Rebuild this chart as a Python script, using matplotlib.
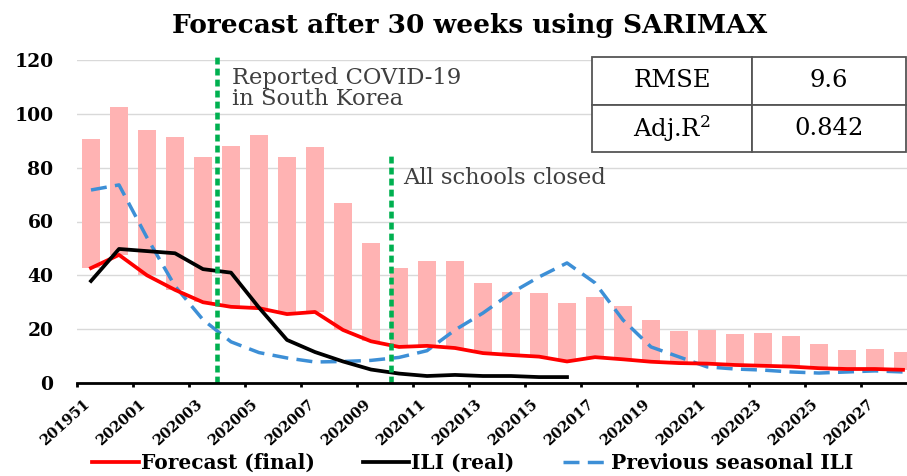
import numpy as np
import matplotlib
matplotlib.use("Agg")
import matplotlib.pyplot as plt
import matplotlib.transforms as mtransforms

# weekly values
weeks = ['201951', '201952', '202001', '202002', '202003', '202004', '202005',
         '202006', '202007', '202008', '202009', '202010', '202011', '202012',
         '202013', '202014', '202015', '202016', '202017', '202018', '202019',
         '202020', '202021', '202022', '202023', '202024', '202025', '202026',
         '202027', '202028']
upper = [90.7, 102.6, 94.0, 91.4, 84.0, 88.0, 92.0, 84.0, 87.8, 67.0,
         52.0, 42.7, 45.2, 45.2, 37.2, 33.8, 33.4, 29.7, 32.0, 28.5,
         23.4, 19.5, 19.7, 18.2, 18.6, 17.5, 14.5, 12.3, 12.6, 11.5]
forecast = [42.7, 47.6, 40.0, 34.6, 30.0, 28.3, 27.8, 25.6, 26.4, 19.7,
            15.5, 13.4, 13.8, 13.0, 11.1, 10.4, 9.8, 8.0, 9.6, 8.8,
            7.9, 7.4, 7.2, 6.7, 6.4, 6.1, 5.5, 5.2, 5.2, 4.9]
ili_real = [37.9, 49.8, 49.0, 48.2, 42.3, 41.0, 28.0, 16.0, 11.5, 8.0,
            5.0, 3.5, 2.6, 3.0, 2.6, 2.6, 2.2, 2.2]
prev_season = [71.7, 73.6, 54.0, 36.0, 23.5, 15.3, 11.3, 9.3, 7.8, 8.0,
               8.4, 9.5, 12.0, 19.7, 26.0, 33.4, 39.4, 44.6, 37.2, 23.4,
               13.4, 9.7, 6.0, 5.2, 4.8, 4.1, 3.7, 4.1, 4.5, 4.1]

# events (position in week index)
covid_pos = 4.5
school_pos = 10.7

metrics = [['RMSE', '9.6'], ['Adj.R$^2$', '0.842']]

plt.rcParams['font.family'] = ['DejaVu Serif']
plt.rcParams['mathtext.fontset'] = 'dejavuserif'

fig = plt.figure(figsize=(9.07, 4.76), dpi=100)
ax = fig.add_axes([77 / 907, 93 / 476, 840 / 907, 323 / 476])

x = np.arange(len(weeks))
upper = np.array(upper)
forecast_arr = np.array(forecast)
ax.bar(x, upper - forecast_arr, bottom=forecast_arr, width=0.64,
       color='#FFB3B3', zorder=2)

ax.plot(x, forecast, color='#FF0000', lw=2.7, zorder=4)
ax.plot(x[:len(ili_real)], ili_real, color='black', lw=2.7, zorder=5)
ax.plot(x, prev_season, color='#3D8FD6', lw=2.5, ls=(0, (4.6, 2.4)), zorder=3)

ax.plot([covid_pos, covid_pos], [0, 121], color='#00B050', lw=3.3,
        ls=(0, (1.5, 0.9)), zorder=6, clip_on=False)
ax.plot([school_pos, school_pos], [0, 86], color='#00B050', lw=3.3,
        ls=(0, (1.5, 0.9)), zorder=6, clip_on=False)

ax.text(covid_pos + 0.55, 109.3, 'Reported COVID-19\nin South Korea',
        fontsize=16.3, color='#3F3F3F', va='center', ha='left', linespacing=0.95)
ax.text(school_pos + 0.45, 76.2, 'All schools closed', fontsize=16.3,
        color='#3F3F3F', va='center', ha='left')

ax.set_xlim(-0.5, 29.5)
ax.set_ylim(0, 120)
ax.set_yticks(np.arange(0, 121, 20))
ax.yaxis.grid(True, color='#D9D9D9', lw=1)
ax.set_axisbelow(True)
for s in ['left', 'right', 'top']:
    ax.spines[s].set_visible(False)
ax.spines['bottom'].set_linewidth(2)
ax.spines['bottom'].set_zorder(7)
ax.tick_params(axis='y', length=0, pad=17, labelsize=13.5)
for lab in ax.get_yticklabels():
    lab.set_fontweight('bold')

# week labels every second boundary, slanted
tick_pos = np.arange(-0.5, 28, 2)
ax.set_xticks(tick_pos)
ax.set_xticklabels([])
ax.tick_params(axis='x', length=3, width=2)
lab_trans = (mtransforms.blended_transform_factory(ax.transData, ax.transAxes)
             + mtransforms.ScaledTranslation(11 / 100, -19 / 100, fig.dpi_scale_trans))
for p, w in zip(tick_pos, weeks[::2]):
    ax.text(p, 0, w, transform=lab_trans, rotation=42, rotation_mode='anchor',
            ha='right', va='center', fontsize=10.5, fontweight='bold',
            clip_on=False)

tbl = ax.table(cellText=metrics, cellLoc='center',
               colWidths=[160, 154],
               bbox=[(592 - 77) / 840, (383 - 152) / 323, 314 / 840, 95 / 323])
tbl.auto_set_font_size(False)
tbl.set_fontsize(17.5)
for cell in tbl.get_celld().values():
    cell.set_edgecolor('#555555')
    cell.set_linewidth(1.3)
    cell.set_facecolor('white')
tbl.set_zorder(8)

fig.text(470 / 907, 1 - 25 / 476, 'Forecast after 30 weeks using SARIMAX',
         ha='center', va='center', fontsize=19, fontweight='bold')

h1, = ax.plot([], [], color='#FF0000', lw=2.7)
h2, = ax.plot([], [], color='black', lw=2.7)
h3, = ax.plot([], [], color='#3D8FD6', lw=2.5, ls=(0, (4.6, 2.4)))
fig.legend([h1, h2, h3], ['Forecast (final)', 'ILI (real)', 'Previous seasonal ILI'],
           loc='center', bbox_to_anchor=(473 / 907, 1 - 463 / 476), ncol=3,
           frameon=False, handlelength=2.3, handletextpad=0.1, columnspacing=2.4,
           prop={'weight': 'bold', 'size': 14.5})

fig.savefig('out.png', dpi=100)
